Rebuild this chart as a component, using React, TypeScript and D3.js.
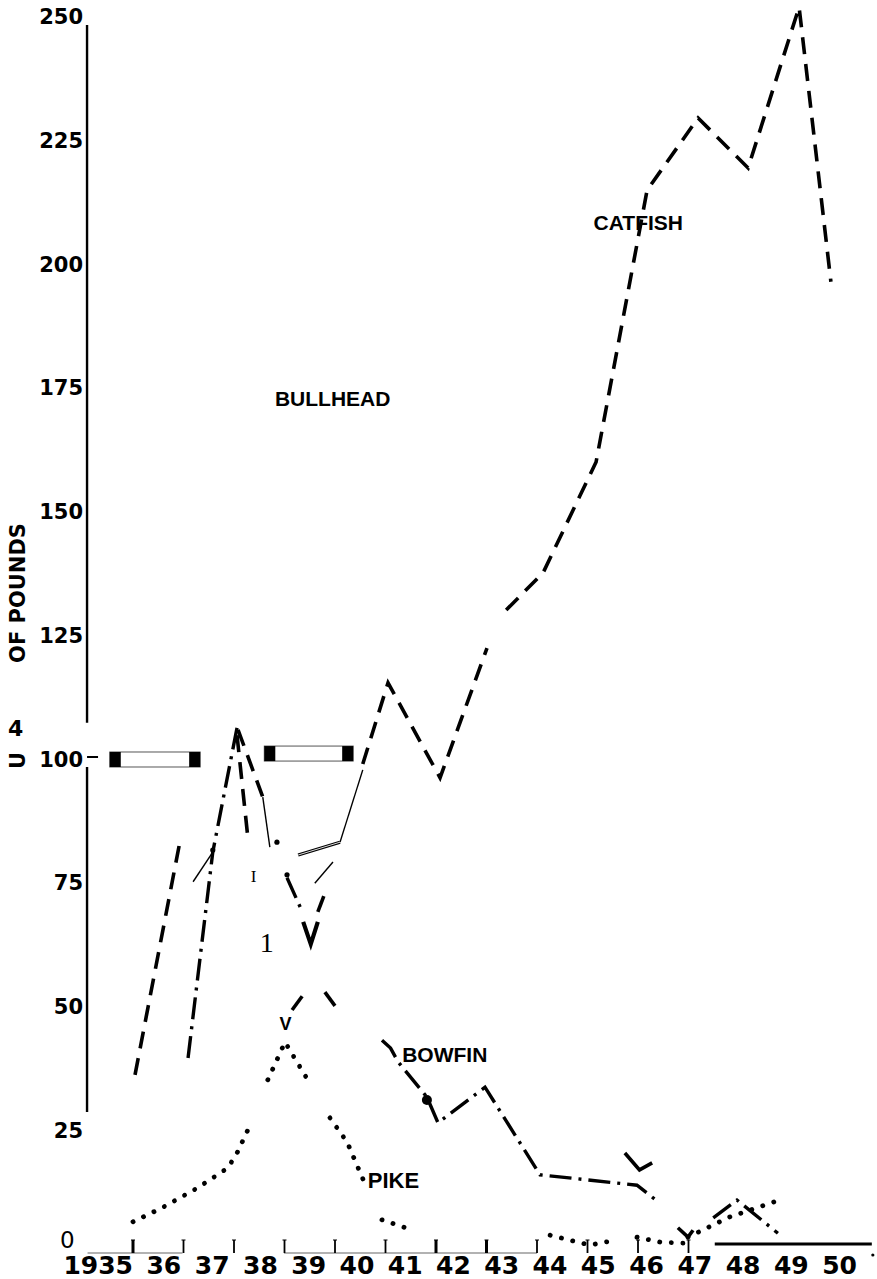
import React from "react";
import * as d3 from "d3";

// scanned fish-catch chart (pounds per year)
const WIDTH = 877;
const HEIGHT = 1279;

const X_LABELS = ["1935", "36", "37", "38", "39", "40", "41", "42", "43", "44", "45", "46", "47", "48", "49", "50"];
const TICK_YEARS = [1935, 1936, 1937, 1938, 1939, 1940, 1941, 1942, 1943, 1944, 1945, 1946];
const Y_TICKS = [250, 225, 200, 175, 150, 125, 100, 75, 50, 25];

type Pt = [number, number];

// catfish (dashed)
const CATFISH_A: Pt[] = [[1939.55, 99.0], [1940.05, 115.4], [1941.08, 96.2], [1942.01, 122.4]];
const CATFISH_B: Pt[] = [[1942.39, 130.1], [1943.12, 137.6], [1944.17, 160.0], [1945.18, 214.9], [1946.19, 229.5], [1947.18, 219.4], [1948.19, 251.9], [1948.82, 196.4]];

// bullhead (broken pieces)
const BULL_DASH: Pt[][] = [
  [[1935.04, 36.2], [1935.95, 84.4]],
  [[1937.06, 104.8], [1937.28, 83.6]],
  [[1937.08, 105.9], [1937.57, 92.3]],
  [[1938.66, 69.1], [1938.8, 72.9]],
  [[1938.15, 49.3], [1938.41, 52.9]],
  [[1938.8, 52.9], [1939.06, 49.3]],
];
const BULL_DASHDOT: Pt[][] = [
  [[1936.09, 39.6], [1936.58, 81.2], [1937.06, 106.3]],
  [[1938.05, 76.0], [1938.31, 70.1]],
];
const BULL_THIN: Pt[][] = [
  [[1936.19, 75.2], [1936.58, 81.2]],
  [[1937.57, 92.3], [1937.71, 82.2]],
  [[1938.6, 74.9], [1938.96, 79.2]],
  [[1939.1, 83.2], [1939.55, 97.8]],
];
const BULL_DOUBLE: Pt[] = [[1938.27, 80.6], [1939.1, 83.2]];
const BULL_V: Pt[] = [[1938.37, 67.1], [1938.52, 62.6], [1938.66, 67.1]];
const BULL_DOTS: Pt[] = [[1937.85, 83.2], [1938.05, 76.6], [1936.58, 81.6]];

// bowfin (dash-dot)
const BOWFIN_A: Pt[] = [[1939.93, 43.2], [1940.1, 41.6], [1940.25, 38.8], [1940.82, 31.7], [1941.04, 26.5], [1941.97, 33.7], [1943.06, 16.0], [1944.98, 13.9], [1945.38, 10.7]];
const BOWFIN_B: Pt[] = [[1944.74, 20.4], [1945.03, 17.0], [1945.28, 18.4]];
const BOWFIN_C: Pt[] = [[1945.79, 5.3], [1945.99, 3.4], [1946.09, 4.8]];
const BOWFIN_D: Pt[] = [[1946.49, 7.3], [1946.96, 10.9], [1947.77, 4.2]];
const BOWFIN_DOT: Pt = [1940.82, 31.1];

// pike (dotted)
const PIKE: Pt[][] = [
  [[1935, 6.5], [1935.57, 9.3], [1936.27, 13.3], [1936.88, 17.4], [1937.06, 20.4], [1937.34, 26.5]],
  [[1937.67, 35.2], [1938.01, 42.8], [1938.5, 34.5]],
  [[1938.9, 27.5], [1939.24, 22.6], [1939.63, 13.3]],
  [[1939.93, 6.9], [1940.54, 4.8]],
  [[1943.26, 3.8], [1943.65, 2.8], [1944.05, 1.8], [1944.45, 2.6]],
  [[1944.98, 3.4], [1945.44, 2.4], [1945.89, 2.2]],
  [[1945.99, 3.4], [1946.82, 7.5], [1947.75, 10.7]],
];

// white bars near 100
const BARS = [
  { from: 1934.54, to: 1936.33, value: 99.9 },
  { from: 1937.6, to: 1939.36, value: 101.1 },
];

const Y_AXIS_PARTS: Pt[] = [[248.3, 107.3], [98.4, 28.7]];
const X_AXIS_THIN: Pt[] = [[1934.1, 1935.98], [1937.99, 1943.0]];
const X_AXIS_THICK: Pt = [1946.52, 1949.63];

const xScale = d3.scaleLinear().domain([1935, 1950]).range([133, 890.5]);
const yScale = d3.scaleLinear().domain([0, 250]).range([1254, 16.5]);
const labelScale = d3.scalePoint<string>().domain(X_LABELS).range([133, 857]);
const line = d3.line<Pt>().x((d) => xScale(d[0])).y((d) => yScale(d[1]));

const NUM_FONT = "'DejaVu Sans', Verdana, sans-serif";
const LBL_FONT = "'Liberation Sans', Arial, sans-serif";
const SERIF = "'Liberation Serif', 'Times New Roman', serif";

const DASHED = { fill: "none", stroke: "#000", strokeWidth: 3.6, strokeDasharray: "17 10" };
const DASHDOT = { fill: "none", stroke: "#000", strokeWidth: 3.4, strokeDasharray: "22 7 3 7" };
const DOTTED = { fill: "none", stroke: "#000", strokeWidth: 4.8, strokeDasharray: "0.1 11.5", strokeLinecap: "round" as const };
const THIN = { fill: "none", stroke: "#000", strokeWidth: 1.4 };
const SOLID = { fill: "none", stroke: "#000", strokeWidth: 3.6 };

export default function App() {
  const axisX = xScale(1934.09);
  const y0 = yScale(0);
  return (
    <svg width={WIDTH} height={HEIGHT} style={{ position: "absolute", left: 0, top: 0, background: "#fff" }}>
      <rect width={WIDTH} height={HEIGHT} fill="#fff" />

      {/* y axis */}
      {Y_AXIS_PARTS.map((p, i) => (
        <line key={i} x1={axisX} x2={axisX} y1={yScale(p[0])} y2={yScale(p[1])} stroke="#000" strokeWidth={2.4} />
      ))}
      <line x1={axisX} x2={axisX + 11} y1={yScale(100) - 2} y2={yScale(100) - 2} stroke="#000" strokeWidth={2} />
      {Y_TICKS.map((v) => (
        <text key={v} x={83} y={yScale(v)} dy="0.36em" textAnchor="end" fontFamily={NUM_FONT} fontWeight="bold" fontSize={21}>
          {v}
        </text>
      ))}
      <text x={60} y={y0 - 6} fontFamily={NUM_FONT} fontSize={23}>0</text>
      <text x={8} y={736} fontFamily={NUM_FONT} fontWeight="bold" fontSize={22}>4</text>
      <text transform={`translate(25,${yScale(99.7)}) rotate(-90)`} textAnchor="middle" fontFamily={NUM_FONT} fontWeight="bold" fontSize={21}>U</text>
      <text transform={`translate(25,593) rotate(-90)`} textAnchor="middle" fontFamily={NUM_FONT} fontWeight="bold" fontSize={21}>OF POUNDS</text>

      {/* x axis */}
      {X_AXIS_THIN.map((s, i) => (
        <line key={i} x1={xScale(s[0])} x2={xScale(s[1])} y1={y0 - 1} y2={y0 - 1} stroke="#666" strokeWidth={1.2} />
      ))}
      <line x1={xScale(X_AXIS_THICK[0])} x2={xScale(X_AXIS_THICK[1])} y1={yScale(2)} y2={yScale(2)} stroke="#000" strokeWidth={3} />
      <circle cx={xScale(1949.65)} cy={y0 + 1} r={1.6} fill="#000" />
      {TICK_YEARS.map((yr, i) => (
        <g key={yr}>
          <line x1={xScale(yr)} x2={xScale(yr)} y1={y0 - 14} y2={y0 - 1} stroke="#000" strokeWidth={i === 0 || yr === 1941 || yr === 1942 ? 3 : 1.8} />
          <line x1={xScale(yr) - 2} x2={xScale(yr) + 2} y1={y0 - 14} y2={y0 - 14} stroke="#000" strokeWidth={1} />
        </g>
      ))}
      {X_LABELS.map((l) => (
        <text key={l} x={labelScale(l)} y={1274} textAnchor="end" fontFamily={NUM_FONT} fontWeight="bold" fontSize={25}>
          {l}
        </text>
      ))}

      {/* bars */}
      {BARS.map((b, i) => {
        const x0 = xScale(b.from);
        const x1 = xScale(b.to);
        const yc = yScale(b.value);
        return (
          <g key={i}>
            <rect x={x0} y={yc - 7.5} width={x1 - x0} height={15} fill="#fff" stroke="#555" strokeWidth={1} />
            <rect x={x0} y={yc - 7.5} width={11} height={15} fill="#000" />
            <rect x={x1 - 11} y={yc - 7.5} width={11} height={15} fill="#000" />
          </g>
        );
      })}

      {/* catfish */}
      <path d={line(CATFISH_A) ?? ""} {...DASHED} />
      <path d={line(CATFISH_B) ?? ""} {...DASHED} />

      {/* bullhead */}
      {BULL_DASH.map((s, i) => <path key={i} d={line(s) ?? ""} {...DASHED} />)}
      {BULL_DASHDOT.map((s, i) => <path key={i} d={line(s) ?? ""} {...DASHDOT} />)}
      {BULL_THIN.map((s, i) => <path key={i} d={line(s) ?? ""} {...THIN} />)}
      <path d={line(BULL_DOUBLE) ?? ""} fill="none" stroke="#000" strokeWidth={3.2} />
      <path d={line(BULL_DOUBLE) ?? ""} fill="none" stroke="#ddd" strokeWidth={1} />
      <path d={line(BULL_V) ?? ""} {...SOLID} strokeWidth={4.2} />
      {BULL_DOTS.map((d, i) => <circle key={i} cx={xScale(d[0])} cy={yScale(d[1])} r={2.6} fill="#000" />)}

      {/* bowfin */}
      <path d={line(BOWFIN_A) ?? ""} {...DASHDOT} />
      <path d={line(BOWFIN_B) ?? ""} {...SOLID} />
      <path d={line(BOWFIN_C) ?? ""} {...SOLID} />
      <path d={line(BOWFIN_D) ?? ""} {...DASHDOT} />
      <circle cx={xScale(BOWFIN_DOT[0])} cy={yScale(BOWFIN_DOT[1])} r={5} fill="#000" />

      {/* pike */}
      {PIKE.map((s, i) => <path key={i} d={line(s) ?? ""} {...DOTTED} />)}

      {/* labels */}
      <text x={xScale(1937.81)} y={yScale(171.3)} fontFamily={LBL_FONT} fontWeight="bold" fontSize={21}>BULLHEAD</text>
      <text x={xScale(1944.12)} y={yScale(206.9)} fontFamily={LBL_FONT} fontWeight="bold" fontSize={21}>CATFISH</text>
      <text x={xScale(1940.33)} y={yScale(38.8)} fontFamily={LBL_FONT} fontWeight="bold" fontSize={21}>BOWFIN</text>
      <text x={xScale(1939.65)} y={yScale(13.3)} fontFamily={LBL_FONT} fontWeight="bold" fontSize={22}>PIKE</text>
      <text x={xScale(1937.9)} y={yScale(45.3)} fontFamily={LBL_FONT} fontWeight="bold" fontSize={18}>V</text>
      <text x={xScale(1937.33)} y={yScale(75.2)} fontFamily={SERIF} fontSize={17}>I</text>
      <text x={xScale(1937.51)} y={yScale(61.0)} fontFamily={SERIF} fontSize={28}>1</text>
    </svg>
  );
}
